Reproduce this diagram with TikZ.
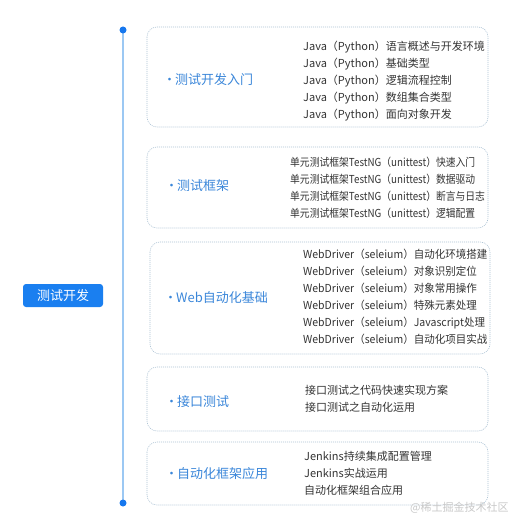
\documentclass[tikz,border=0pt]{standalone}
\usepackage{fontspec}
\usepackage{graphicx}
\setmainfont{Noto Sans CJK SC}
\newfontfamily\cjkfont{Noto Sans CJK SC}
\definecolor{rootblue}{HTML}{1A7FF0}
\definecolor{dotblue}{HTML}{1677EE}
\definecolor{lineblue}{HTML}{9CC8F3}
\definecolor{labelblue}{HTML}{3A86D9}
\definecolor{borderc}{HTML}{A9C0D2}
\definecolor{itemc}{HTML}{333333}
\definecolor{wmc}{HTML}{C8C8C8}
\newcommand{\itemrows}[2]{\scalebox{#1}[1]{\begin{tabular}{@{}l@{}}#2\end{tabular}}}
\tikzset{
  x=1pt,y=-1pt,
  groupbox/.style={draw=borderc,line width=0.6pt,dash pattern=on 1pt off 1pt,rounded corners=10pt},
  grouplabel/.style={anchor=west,inner sep=0pt,text=labelblue,font=\cjkfont\fontsize{13}{15}\selectfont},
  itemlist/.style={anchor=west,inner sep=0pt,text=itemc,font=\cjkfont\fontsize{11}{17}\selectfont},
  rootbox/.style={fill=rootblue,rounded corners=3pt,text=white,font=\cjkfont\fontsize{13}{15}\selectfont,minimum width=80pt,minimum height=23pt,inner sep=0pt},
  spine/.style={draw=lineblue,line width=1.6pt},
  enddot/.style={fill=dotblue,circle,inner sep=0pt,minimum size=7pt}
}
\begin{document}
\begin{tikzpicture}
\useasboundingbox (0,0) rectangle (522,529);
% spine
\coordinate (topc) at (123,30);
\coordinate (botc) at (123,503);
\draw[spine] (topc) -- (botc);
\node[enddot] (top) at (topc) {};
\node[enddot] (bot) at (botc) {};
% root
\node[rootbox] (root) at (63,295.5) {测试开发};
% boxes
\draw[groupbox] (147,27) rectangle (488,127);
\draw[groupbox] (147,147) rectangle (488,228);
\draw[groupbox] (150,242) rectangle (490,354);
\draw[groupbox] (147,367) rectangle (488,431);
\draw[groupbox] (147,442) rectangle (488,505);
% labels
\node[grouplabel] (l1) at (163,80) {·\hspace{-1pt}测试开发入门};
\node[grouplabel] (l2) at (165,186) {·\hspace{-1pt}测试框架};
\node[grouplabel] (l3) at (164,298) {·\hspace{-1pt}Web自动化基础};
\node[grouplabel] (l4) at (165,402) {·\hspace{-1pt}接口测试};
\node[grouplabel] (l5) at (165,474) {·\hspace{-1pt}自动化框架应用};
% items
\node[itemlist] (i1) at (303,81) {\itemrows{1}{Java（Python）语言概述与开发环境\\Java（Python）基础类型\\Java（Python）逻辑流程控制\\Java（Python）数组集合类型\\Java（Python）面向对象开发}};
\node[itemlist] (i2) at (290,188.5) {\itemrows{0.89}{单元测试框架TestNG（unittest）快速入门\\单元测试框架TestNG（unittest）数据驱动\\单元测试框架TestNG（unittest）断言与日志\\单元测试框架TestNG（unittest）逻辑配置}};
\node[itemlist] (i3) at (303,298) {\itemrows{0.955}{WebDriver（seleium）自动化环境搭建\\WebDriver（seleium）对象识别定位\\WebDriver（seleium）对象常用操作\\WebDriver（seleium）特殊元素处理\\WebDriver（seleium）Javascript处理\\WebDriver（seleium）自动化项目实战}};
\node[itemlist] (i4) at (305,400) {\itemrows{1}{接口测试之代码快速实现方案\\接口测试之自动化运用}};
\node[itemlist] (i5) at (304,474.5) {\itemrows{1}{Jenkins持续集成配置管理\\Jenkins实战运用\\自动化框架组合应用}};
% watermark
\node[anchor=west,inner sep=0pt,text=wmc,font=\cjkfont\fontsize{11}{13}\selectfont] (wm) at (410,508) {@稀土掘金技术社区};
\end{tikzpicture}
\end{document}
